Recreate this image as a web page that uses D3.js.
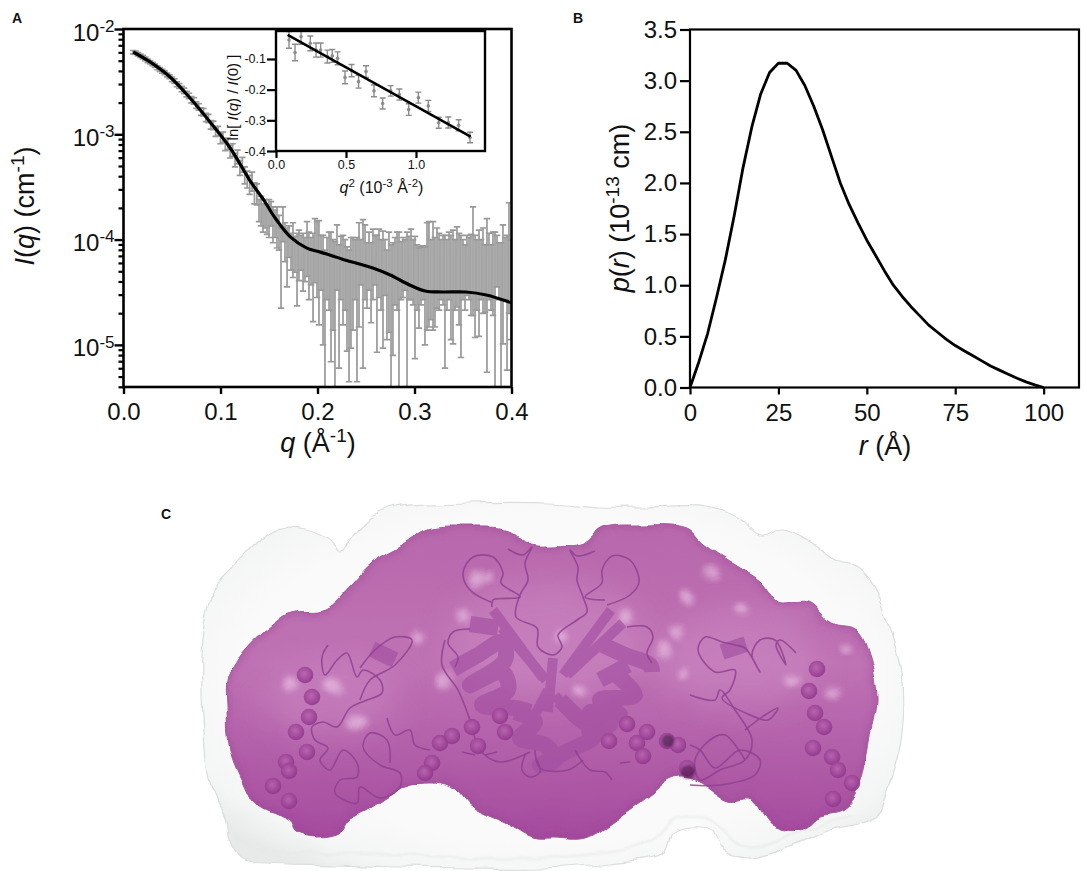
<!DOCTYPE html>
<html><head><meta charset="utf-8">
<script src="https://cdnjs.cloudflare.com/ajax/libs/d3/7.8.5/d3.min.js"></script>
<style>html,body{margin:0;padding:0;background:#fff}svg{display:block}text{font-family:"Liberation Sans",Arial,sans-serif;fill:#111}</style>
</head><body><div id="chart"></div>
<script>
// ---------- Panel A: scattering data ----------
const curveQ=[.01,.0273,.048,.0686,.0892,.11,.13,.146,.155,.172,.189,.203,.225,.257,.275,.295,.311,.329,.353,.374,.4];
const curveI=[6.05e-3,4.87e-3,3.5e-3,2.21e-3,1.31e-3,7.41e-4,3.68e-4,2.27e-4,1.67e-4,1.06e-4,8.3e-5,7.6e-5,6.55e-5,5.37e-5,4.61e-5,3.71e-5,3.25e-5,3.18e-5,3.18e-5,2.98e-5,2.51e-5];
const lowQ=[.01,.0125,.015,.0175,.02,.0225,.025,.0275,.03,.0325,.035,.0375,.04,.0425,.045,.0475,.05,.0525,.055,.0575,.06,.0625,.065,.0675,.07,.0725,.075,.0775,.08,.0825,.085,.0875,.09,.0925,.095,.0975,.1,.1025,.105,.1075,.11,.1125,.115,.1175,.12,.1225,.125,.1275,.13,.1325,.135,.1375];
const lowLogI=[-2.22,-2.226,-2.24,-2.254,-2.267,-2.284,-2.303,-2.316,-2.333,-2.349,-2.369,-2.384,-2.402,-2.416,-2.437,-2.453,-2.478,-2.495,-2.525,-2.541,-2.57,-2.588,-2.618,-2.636,-2.672,-2.683,-2.723,-2.74,-2.785,-2.79,-2.84,-2.85,-2.91,-2.915,-2.975,-2.97,-3.04,-3.03,-3.1,-3.09,-3.165,-3.15,-3.245,-3.215,-3.32,-3.29,-3.39,-3.43,-3.48,-3.45,-3.56,-3.57];
const lowErr=[.016,.016,.016,.016,.016,.016,.016,.016,.016,.016,.018,.018,.018,.018,.018,.018,.022,.022,.022,.022,.026,.026,.026,.026,.03,.03,.03,.03,.035,.035,.04,.04,.04,.04,.045,.045,.05,.05,.055,.055,.06,.06,.065,.065,.07,.07,.08,.08,.09,.09,.1,.1];
const noisyQ=[.1397,.1418,.1438,.1459,.1479,.15,.1521,.1541,.1562,.1582,.1603,.1624,.1644,.1665,.1686,.1706,.1727,.1747,.1768,.1789,.1809,.183,.1851,.1871,.1892,.1912,.1933,.1954,.1974,.1995,.2015,.2036,.2057,.2077,.2098,.2119,.2139,.216,.218,.2201,.2222,.2242,.2263,.2284,.2304,.2325,.2345,.2366,.2387,.2407,.2428,.2448,.2469,.249,.251,.2531,.2552,.2572,.2593,.2613,.2634,.2655,.2675,.2696,.2716,.2737,.2758,.2778,.2799,.282,.284,.2861,.2881,.2902,.2923,.2943,.2964,.2985,.3005,.3026,.3046,.3067,.3088,.3108,.3129,.3149,.317,.3191,.3211,.3232,.3253,.3273,.3294,.3314,.3335,.3356,.3376,.3397,.3418,.3438,.3459,.3479,.35,.3521,.3541,.3562,.3582,.3603,.3624,.3644,.3665,.3686,.3706,.3727,.3747,.3768,.3789,.3809,.383,.3851,.3871,.3892,.3912,.3933,.3954,.3974,.3995];
const noisyHigh=[-3.62,-3.59,-3.66,-3.62,-3.67,-3.62,-3.64,-3.69,-3.72,-3.69,-3.77,-3.89,-3.69,-3.84,-3.89,-3.87,-3.94,-3.84,-3.97,-3.94,-3.91,-3.96,-3.94,-3.98,-3.83,-3.93,-3.98,-3.94,-3.8,-3.83,-3.82,-3.96,-3.96,-4.1,-3.98,-3.93,-3.93,-4,-4.02,-3.86,-4.05,-3.97,-3.96,-4,-4.07,-4.1,-3.98,-3.98,-4,-3.98,-3.84,-4,-3.81,-3.86,-4.03,-3.93,-4.03,-3.9,-3.96,-3.96,-3.9,-4,-3.92,-4,-4.1,-3.93,-4.05,-4.03,-3.98,-3.93,-3.93,-4.02,-3.98,-4,-3.93,-3.97,-3.9,-4,-3.97,-4.05,-4.08,-4.07,-4.06,-4.07,-3.84,-3.83,-4,-3.83,-3.98,-3.89,-3.94,-4,-3.96,-3.96,-4,-3.93,-3.96,-3.91,-4,-3.88,-3.94,-3.96,-4,-4.05,-3.96,-3.98,-3.95,-3.69,-3.96,-4,-3.91,-4,-3.89,-4.05,-3.8,-3.94,-4.05,-3.93,-3.93,-3.96,-4.03,-4.03,-3.86,-3.98,-3.96,-3.65,-4];
const noisyLow=[-3.83,-3.87,-3.93,-3.89,-3.95,-3.98,-3.87,-4.03,-3.98,-4.08,-4.1,-4.65,-4.02,-4.21,-4.45,-4.17,-4.29,-4.36,-4.31,-4.63,-4.39,-4.29,-4.49,-4.4,-4.35,-4.57,-4.43,-4.78,-4.41,-4.55,-4.81,-4.48,-5,-5.6,-4.57,-4.67,-5.16,-4.86,-5.6,-4.48,-5.22,-4.57,-4.81,-4.67,-5.06,-5.35,-5.03,-4.86,-4.57,-5.35,-4.83,-4.43,-5.22,-4.57,-4.65,-4.48,-4.79,-4.57,-4.43,-5.07,-4.55,-4.67,-5.03,-4.53,-4.95,-4.88,-5.6,-5.1,-4.62,-4.67,-5.6,-4.57,-4.55,-4.48,-5.6,-4.57,-4.57,-4.62,-5.13,-4.67,-4.84,-4.62,-4.57,-5,-4.86,-4.83,-4.76,-4.86,-4.83,-4.65,-4.67,-4.57,-4.62,-5.22,-4.67,-4.57,-4.95,-4.99,-4.67,-4.64,-4.81,-5.12,-4.57,-4.67,-4.53,-4.57,-4.72,-4.72,-4.93,-4.67,-4.92,-4.57,-4.7,-4.69,-5.26,-4.57,-4.67,-4.72,-5.6,-4.45,-4.57,-5.6,-4.99,-4.57,-5.24,-4.7,-4.95];
const qTicks=[0,.1,.2,.3,.4];
const decadeExp=[-2,-3,-4,-5];
const minorMult=[2,3,4,5,6,7,8,9];
// ---------- Panel A inset: Guinier ----------
const guinierX=[.093,.136,.179,.245,.286,.319,.367,.402,.44,.493,.54,.59,.643,.7,.762,.819,.881,.948,1.017,1.088,1.162,1.231,1.305,1.386];
const guinierY=[-.038,-.079,-.027,-.049,-.071,-.071,-.092,-.09,-.098,-.16,-.138,-.174,-.141,-.204,-.245,-.204,-.216,-.265,-.226,-.253,-.308,-.307,-.316,-.356];
const guinierErr=[.027,.027,.025,.024,.023,.023,.021,.021,.021,.021,.02,.021,.019,.019,.018,.017,.018,.019,.018,.018,.018,.018,.018,.017];
const guinierFitX=[.083,1.39];
const guinierFitY=[-.0215,-.353];
const insetXTicks=[0,.5,1];
const insetYTicks=[-.1,-.2,-.3,-.4];
// ---------- Panel B: p(r) ----------
const rVals=[0,2.5,5,7.5,10,12.5,15,17.5,20,22.5,25,27.5,30,32.5,35,37.5,40,42.5,45,47.5,50,52.5,55,57.5,60,62.5,65,67.5,70,72.5,75,77.5,80,82.5,85,87.5,90,92.5,95,97.5,100];
const prVals=[0,.25,.53,.88,1.25,1.68,2.15,2.55,2.87,3.08,3.17,3.17,3.1,2.95,2.75,2.52,2.26,2,1.79,1.61,1.44,1.29,1.14,1,.89,.79,.7,.61,.54,.47,.41,.36,.31,.26,.21,.17,.13,.09,.055,.025,0];
const rTicks=[0,25,50,75,100];
const prTicks=[0,.5,1,1.5,2,2.5,3,3.5];
// ---------- Panel C: structure illustration outlines ----------
const envelopeOutline=[[203,640],[210,603],[220,580],[240,560],[257,543],[277,528],[307,528],[327,537],[340,550],[367,520],[397,507],[467,503],[550,503],[600,507],[643,507],[707,507],[740,520],[760,537],[780,530],[807,540],[837,560],[860,567],[877,593],[890,627],[902,673],[902,733],[893,773],[873,817],[830,830],[790,847],[747,858],[720,847],[710,830],[673,833],[663,853],[607,863],[540,868],[467,868],[400,867],[333,865],[267,863],[243,860],[230,840],[227,823],[210,783],[203,717]];
const envelopeInner=[[235,838],[260,850],[330,853],[400,855],[470,858],[540,858],[610,852],[655,840],[672,822],[712,820],[730,838],[760,845],[800,832],[850,815]];
const modelOutline=[[227,707],[228,677],[247,647],[273,623],[290,612],[327,608],[350,587],[373,563],[403,545],[427,530],[467,527],[507,530],[527,545],[550,547],[583,543],[603,528],[640,525],[687,528],[703,543],[737,565],[760,580],[780,603],[807,603],[830,623],[857,630],[870,657],[877,700],[870,740],[860,787],[843,810],[817,817],[800,830],[773,825],[753,800],[727,800],[700,783],[683,777],[670,780],[653,793],[620,817],[587,838],[557,838],[533,837],[507,823],[473,807],[453,787],[433,783],[407,787],[373,807],[350,820],[340,833],[317,838],[297,833],[290,822],[257,807],[243,783],[230,750]];
const glowSpots=[[290,683,7],[333,687,8],[418,637,6],[463,615,6],[445,680,7],[357,722,8],[477,578,8],[712,572,6],[687,597,7],[740,610,6],[677,633,6],[663,650,7],[683,673,5],[833,693,6],[793,680,6],[847,648,5],[627,617,7],[580,690,6],[560,637,6],[490,578,5]];
const spheres=[[305,675],[312,697],[309,717],[296,732],[307,752],[286,762],[289,771],[273,786],[289,801],[440,743],[452,736],[472,727],[478,746],[505,732],[432,763],[425,773],[609,741],[627,724],[647,732],[637,743],[643,756],[667,741],[678,745],[687,768],[817,669],[809,691],[815,713],[824,727],[813,748],[832,757],[838,770],[852,783],[833,799],[500,716]];
const thinRibbons=[
 [[508,549],[523,555],[532,547],[525,563],[528,580],[520,595],[516,617],[537,628],[538,647],[553,655],[562,647],[558,635],[577,620],[587,612],[583,597],[577,580],[578,567],[570,550],[577,556],[595,551]],
 [[493,603],[470,590],[463,573],[473,557],[493,557],[503,573],[501,583],[520,597],[493,600],[492,607]],
 [[607,605],[630,595],[639,582],[630,560],[612,556],[602,570],[602,583],[585,597],[605,600]],
 [[470,629],[453,632],[448,643],[458,657],[455,667]],
 [[627,627],[647,627],[653,637],[647,653],[652,663]],
 [[328,645],[322,657],[325,675],[337,660],[347,653],[357,677],[363,670],[380,680],[382,693],[367,700],[350,708],[337,727],[323,722],[312,727],[315,740],[328,748],[320,760],[330,770],[343,750],[357,763],[357,777],[340,780],[335,793],[357,803],[360,787],[380,798],[400,787],[400,773],[380,765],[363,747],[370,733],[387,740],[390,763]],
 [[387,718],[395,735],[410,730],[415,745],[430,750]],
 [[360,700],[370,680],[395,665],[412,640],[395,637],[375,650],[360,668]],
 [[445,640],[442,665],[458,690],[470,720],[480,750],[500,762],[530,752]],
 [[796,653],[780,640],[776,645],[786,665],[775,640],[760,640],[752,655],[760,672],[745,648],[735,645],[722,642],[705,637],[698,650],[715,672],[735,670],[730,690],[722,698],[750,715],[768,720],[778,708],[765,715],[745,730]],
 [[690,695],[715,700],[720,690],[735,710],[752,740],[745,760],[720,770],[700,780],[695,760],[710,740],[725,735],[745,760]],
 [[690,785],[720,785],[755,775],[760,760],[740,750],[715,768],[700,750],[690,745]],
 [[575,750],[590,770],[605,772],[612,780]],[[535,750],[540,768],[568,770],[583,760]],
 [[525,755],[522,770],[530,777],[540,772],[537,760]],
 [[462,752],[475,755]],[[485,755],[497,752]],[[620,763],[630,762]]
];
const thickRibbons=[
 [[470,624],[498,628]],
 [[453,669],[478,655],[502,642],[505,660],[470,685],[502,672],[508,690],[482,705],[515,708],[530,712]],
 [[515,712],[535,722],[520,738],[545,745],[555,760],[540,765],[570,750],[595,735],[575,715],[560,700]],
 [[603,645],[625,655],[650,665],[652,672]],[[600,680],[628,665]],
 [[610,670],[635,695],[600,700],[620,715],[590,712],[610,725],[582,735]],
 [[372,649],[395,660]],[[722,652],[746,644]]
];
const sheetRibbons=[[[493,610],[543,678]],[[502,628],[546,680]],[[611,610],[563,675]],[[623,623],[567,675]],[[553,658],[548,712]],[[555,695],[575,720]],[[548,690],[535,715]]];

const W=1084,H=871;
const svg=d3.select('#chart').append('svg').attr('width',W).attr('height',H).attr('viewBox',`0 0 ${W} ${H}`);
const defs=svg.append('defs');
const px=d3.scaleIdentity();
const outlineLine=d3.line().x(d=>px(d[0])).y(d=>px(d[1])).curve(d3.curveCatmullRomClosed.alpha(.5));
const openLine=d3.line().x(d=>px(d[0])).y(d=>px(d[1])).curve(d3.curveCatmullRom.alpha(.5));

function sup(sel,parts,size,supSize){
  let needDrop=false;
  parts.forEach(([t,k])=>{
    const ts=sel.append('tspan').text(t);
    if(k==='s'){ts.attr('font-size',supSize).attr('dy',-size*.36);needDrop=true;}
    else{ if(needDrop){ts.attr('dy',size*.36);needDrop=false;} if(k==='i')ts.attr('font-style','italic');}
  });
}
function styleAxis(g,w){g.selectAll('path.domain').attr('stroke','#000').attr('stroke-width',w);g.selectAll('.tick line').attr('stroke','#000').attr('stroke-width',w);}

[['A',12,23],['B',573,23],['C',161,519]].forEach(([t,x,y])=>svg.append('text').attr('x',x).attr('y',y).attr('font-size',14).attr('font-weight','bold').text(t));

// ===== Panel A =====
const ax=d3.scaleLinear().domain([0,.4]).range([123.5,511.5]);
const ay=d3.scaleLog().domain([Math.pow(10,-5.4),.01]).range([387,29]);
defs.append('clipPath').attr('id','clipA').append('rect').attr('x',123.5).attr('y',29).attr('width',388).attr('height',358);
const gA=svg.append('g');
const bars=gA.append('g').attr('clip-path','url(#clipA)');
const barData=[];
lowQ.forEach((q,i)=>barData.push({q,hi:lowLogI[i]+lowErr[i],lo:lowLogI[i]-lowErr[i]}));
noisyQ.forEach((q,i)=>barData.push({q,hi:noisyHigh[i],lo:noisyLow[i]}));
const barPath=d=>{const x=ax(d.q),a=ay(Math.pow(10,d.hi)),b=ay(Math.pow(10,d.lo));return `M${x},${a}V${b}M${x-3.2},${a}H${x+3.2}M${x-3.2},${b}H${x+3.2}`;};
bars.selectAll('path').data(barData).join('path').attr('d',barPath).attr('fill','none').attr('stroke','#999').attr('stroke-width',1.7);
bars.append('path').datum(d3.range(curveQ.length)).attr('fill','none').attr('stroke','#000').attr('stroke-width',3.2)
  .attr('d',d3.line().x(i=>ax(curveQ[i])).y(i=>ay(curveI[i])).curve(d3.curveCatmullRom.alpha(.5)));
gA.append('rect').attr('x',123.5).attr('y',29).attr('width',388).attr('height',358).attr('fill','none').attr('stroke','#000').attr('stroke-width',2.6);
const minorVals=[];decadeExp.forEach(e=>minorMult.forEach(m=>{const v=m*Math.pow(10,e-1);if(v>=ay.domain()[0])minorVals.push(v);}));
const aMinor=gA.append('g').attr('transform','translate(123.5,0)').call(d3.axisLeft(ay).tickValues(minorVals).tickSize(5).tickFormat(''));
styleAxis(aMinor,2.2);aMinor.select('.domain').remove();
const aMajor=gA.append('g').attr('transform','translate(123.5,0)').call(d3.axisLeft(ay).tickValues(decadeExp.map(e=>Math.pow(10,e))).tickSize(9).tickPadding(2).tickFormat(''));
styleAxis(aMajor,2.4);aMajor.select('.domain').remove();
aMajor.selectAll('.tick').each(function(d){
  const t=d3.select(this).select('text').attr('fill','#111').attr('font-size',24).attr('text-anchor','end').attr('x',-9).attr('dy',11);
  t.text(null);t.style('font-family','"Liberation Sans"');
  sup(t,[['10','n'],[String(Math.round(Math.log10(d))),'s']],24,17);
});
const aBottom=gA.append('g').attr('transform','translate(0,387)').call(d3.axisBottom(ax).tickValues(qTicks).tickSize(7).tickPadding(9).tickFormat(d3.format('.1f')));
styleAxis(aBottom,2.4);aBottom.select('.domain').remove();
aBottom.selectAll('text').attr('font-size',24).attr('fill','#111').style('font-family','"Liberation Sans"');
const aXT=gA.append('text').attr('x',318).attr('y',452).attr('text-anchor','middle').attr('font-size',27);
sup(aXT,[['q','i'],[' (Å','n'],['-1','s'],[')','n']],27,19);
const aYT=gA.append('text').attr('transform','translate(34,206) rotate(-90)').attr('text-anchor','middle').attr('font-size',27);
sup(aYT,[['I','i'],['(','n'],['q','i'],[')  (cm','n'],['-1','s'],[')','n']],27,19);

// ===== Inset =====
const ix=d3.scaleLinear().domain([0,1.493]).range([276,485]);
const iy=d3.scaleLinear().domain([-.4,-.0088]).range([151,31]);
const gI=svg.append('g');
gI.append('rect').attr('x',276).attr('y',31).attr('width',209).attr('height',120).attr('fill','#fff');
defs.append('clipPath').attr('id','clipI').append('rect').attr('x',276).attr('y',31).attr('width',209).attr('height',120);
const iBars=gI.append('g').attr('clip-path','url(#clipI)');
guinierX.forEach((x,i)=>{
  const X=ix(x),a=iy(guinierY[i]+guinierErr[i]),b=iy(guinierY[i]-guinierErr[i]);
  iBars.append('path').attr('d',`M${X},${a}V${b}M${X-3},${a}H${X+3}M${X-3},${b}H${X+3}`).attr('stroke','#8c8c8c').attr('stroke-width',1.4).attr('fill','none');
  iBars.append('circle').attr('cx',X).attr('cy',iy(guinierY[i])).attr('r',1.8).attr('fill','#8c8c8c');
});
iBars.append('line').attr('x1',ix(guinierFitX[0])).attr('y1',iy(guinierFitY[0])).attr('x2',ix(guinierFitX[1])).attr('y2',iy(guinierFitY[1])).attr('stroke','#000').attr('stroke-width',2.6);
gI.append('rect').attr('x',276).attr('y',31).attr('width',209).attr('height',120).attr('fill','none').attr('stroke','#000').attr('stroke-width',2.4);
const iL=gI.append('g').attr('transform','translate(276,0)').call(d3.axisLeft(iy).tickValues(insetYTicks).tickSize(9).tickPadding(1).tickFormat(d3.format('.1f')));
styleAxis(iL,2.2);iL.select('.domain').remove();
iL.selectAll('text').attr('font-size',12.5).attr('fill','#111').style('font-family','"Liberation Sans"').text(d=>d.toFixed(1));
const iB=gI.append('g').attr('transform','translate(0,151)').call(d3.axisBottom(ix).tickValues(insetXTicks).tickSize(7).tickPadding(2).tickFormat(d3.format('.1f')));
styleAxis(iB,2.2);iB.select('.domain').remove();
iB.selectAll('text').attr('font-size',12.5).attr('fill','#111').style('font-family','"Liberation Sans"');
const iXT=gI.append('text').attr('x',381.5).attr('y',193).attr('text-anchor','middle').attr('font-size',16);
sup(iXT,[['q','i'],['2','s'],[' (10','n'],['-3','s'],[' Å','n'],['-2','s'],[')','n']],16,11.5);
const iYT=gI.append('text').attr('transform','translate(238,97.5) rotate(-90)').attr('text-anchor','middle').attr('font-size',15);
sup(iYT,[['ln[ ','n'],['I','i'],['(','n'],['q','i'],[') / ','n'],['I','i'],['(0) ]','n']],15,11);

// ===== Panel B =====
const bx=d3.scaleLinear().domain([0,110]).range([690,1079]);
const by=d3.scaleLinear().domain([0,3.5]).range([387.5,29.5]);
const gB=svg.append('g');
gB.append('path').datum(d3.range(rVals.length)).attr('fill','none').attr('stroke','#000').attr('stroke-width',2.8).attr('stroke-linejoin','round')
  .attr('d',d3.line().x(i=>bx(rVals[i])).y(i=>by(prVals[i])));
gB.append('rect').attr('x',690).attr('y',29.5).attr('width',389).attr('height',358).attr('fill','none').attr('stroke','#000').attr('stroke-width',2.2);
const bL=gB.append('g').attr('transform','translate(690,0)').call(d3.axisLeft(by).tickValues(prTicks).tickSize(10).tickPadding(3).tickFormat(d3.format('.1f')));
styleAxis(bL,2.2);bL.select('.domain').remove();
bL.selectAll('text').attr('font-size',24).attr('fill','#111').style('font-family','"Liberation Sans"');
const bB=gB.append('g').attr('transform','translate(0,387.5)').call(d3.axisBottom(bx).tickValues(rTicks).tickSize(7).tickPadding(9));
styleAxis(bB,2.2);bB.select('.domain').remove();
bB.selectAll('text').attr('font-size',24).attr('fill','#111').style('font-family','"Liberation Sans"');
const bXT=gB.append('text').attr('x',885).attr('y',455).attr('text-anchor','middle').attr('font-size',27);
sup(bXT,[['r','i'],[' (Å)','n']],27,19);
const bYT=gB.append('text').attr('transform','translate(629,208) rotate(-90)').attr('text-anchor','middle').attr('font-size',27);
sup(bYT,[['p','i'],['(','n'],['r','i'],[')  (10','n'],['-13','s'],[' cm)','n']],27,19);

// ===== Panel C =====
const blur=(id,s)=>defs.append('filter').attr('id',id).attr('x','-30%').attr('y','-30%').attr('width','160%').attr('height','160%').append('feGaussianBlur').attr('stdDeviation',s);
blur('b1',.8);blur('b3',3);blur('b14',16);
const lump=defs.append('filter').attr('id','lump').attr('x','-5%').attr('y','-5%').attr('width','110%').attr('height','110%');
lump.append('feTurbulence').attr('type','fractalNoise').attr('baseFrequency',.035).attr('numOctaves',1).attr('seed',4).attr('result','n');
lump.append('feDisplacementMap').attr('in','SourceGraphic').attr('in2','n').attr('scale',12).attr('xChannelSelector','R').attr('yChannelSelector','G');
const gradW=defs.append('radialGradient').attr('id','gW').attr('cx','50%').attr('cy','48%').attr('r','62%');
[['0%','#fcfcfc'],['72%','#fafafa'],['90%','#f4f5f5'],['100%','#e8eaea']].forEach(([o,c])=>gradW.append('stop').attr('offset',o).attr('stop-color',c));
const gradP=defs.append('linearGradient').attr('id','gP').attr('x1','0').attr('y1','0').attr('x2','0').attr('y2','1');
[['0%','#b868ac'],['45%','#bf72b4'],['72%','#b25fa9'],['100%','#a44a9e']].forEach(([o,c])=>gradP.append('stop').attr('offset',o).attr('stop-color',c));
const gradS=defs.append('radialGradient').attr('id','gS').attr('cx','45%').attr('cy','42%').attr('r','60%');
[['0%','#b765ae'],['60%','#a04699'],['100%','#8c3389']].forEach(([o,c])=>gradS.append('stop').attr('offset',o).attr('stop-color',c));
defs.append('clipPath').attr('id','clipM').append('path').attr('d',outlineLine(modelOutline));

const gC=svg.append('g');
const eG=gC.append('g').attr('filter','url(#lump)');
eG.append('path').attr('d',outlineLine(envelopeOutline)).attr('fill','url(#gW)').attr('stroke','#dcdede').attr('stroke-width',1.2);
eG.append('path').attr('d',openLine(envelopeInner)).attr('fill','none').attr('stroke','#e6e8e8').attr('stroke-width',1.5).attr('filter','url(#b1)');
const mG=gC.append('g').attr('filter','url(#lump)');
mG.append('path').attr('d',outlineLine(modelOutline)).attr('fill','url(#gP)').attr('stroke','#a85a9f').attr('stroke-width',1);
const mShade=mG.append('g').attr('clip-path','url(#clipM)');
mShade.append('path').attr('d',outlineLine(modelOutline)).attr('fill','none').attr('stroke','#94428f').attr('stroke-opacity',.35).attr('stroke-width',7).attr('filter','url(#b3)');
[[548,640,100,60],[330,700,70,40],[740,660,80,50]].forEach(([x,y,a,b])=>mShade.append('ellipse').attr('cx',x).attr('cy',y).attr('rx',a).attr('ry',b).attr('fill','#d79bcf').attr('opacity',.3).attr('filter','url(#b14)'));
glowSpots.forEach(([x,y,r])=>mShade.append('ellipse').attr('cx',x).attr('cy',y).attr('rx',r*1.1).attr('ry',r).attr('fill','#eecbe9').attr('opacity',.6).attr('filter','url(#b3)'));
const fg=gC.append('g');
const thickG=fg.append('g').attr('opacity',.64);
sheetRibbons.forEach(p=>thickG.append('path').attr('d',openLine(p)).attr('fill','none').attr('stroke','#a24ea1').attr('stroke-width',10));
thickRibbons.forEach(p=>thickG.append('path').attr('d',openLine(p)).attr('fill','none').attr('stroke','#a24ea1').attr('stroke-width',16).attr('stroke-linejoin','round').attr('stroke-linecap','butt'));
thinRibbons.forEach(p=>fg.append('path').attr('d',openLine(p)).attr('fill','none').attr('stroke','#8f3f90').attr('stroke-opacity',.85).attr('stroke-width',1.6));
spheres.forEach(([x,y])=>fg.append('circle').attr('cx',x).attr('cy',y).attr('r',8.3).attr('fill','url(#gS)').attr('opacity',.88));
fg.append('circle').attr('cx',668).attr('cy',741).attr('r',6).attr('fill','#3d1b3f').attr('opacity',.6).attr('filter','url(#b1)');
fg.append('circle').attr('cx',688).attr('cy',772).attr('r',7).attr('fill','#4a1548').attr('opacity',.6).attr('filter','url(#b1)');
</script></body></html>
